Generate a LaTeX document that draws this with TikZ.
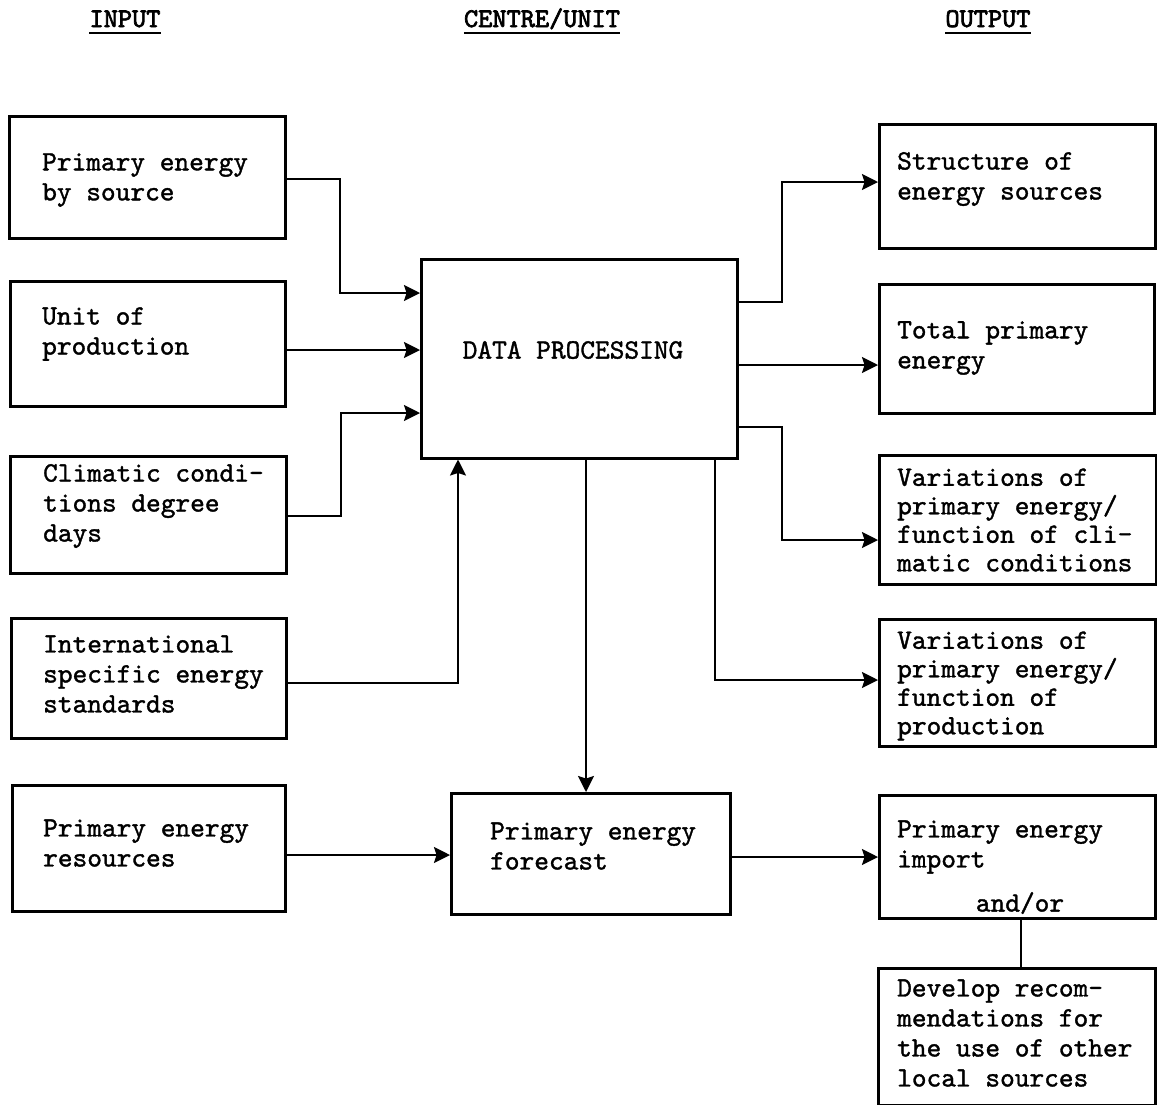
\documentclass[tikz,border=0pt]{standalone}
\usepackage{fontspec}
\newfontfamily\twfont{lmmono10-regular}[Extension=.otf, FakeBold=1.3]
\newfontfamily\twhead{lmmono10-regular}[Extension=.otf, FakeBold=2.6]
\usetikzlibrary{arrows.meta}
\begin{document}
\begin{tikzpicture}[x=1pt,y=-1pt,
  box/.style={draw, line width=2.5pt, inner sep=0pt, anchor=north west},
  txt/.style={font=\twfont\fontsize{28}{30}\selectfont, align=left, anchor=west, inner sep=0pt},
  txtr/.style={font=\twfont\fontsize{28}{28.5}\selectfont, align=left, anchor=west, inner sep=0pt},
  hdr/.style={font=\twhead\fontsize{27}{30}\selectfont, inner sep=0pt, anchor=base},
  ul/.style={line width=2.6pt},
  conn/.style={line width=2pt},
  arr/.style={conn, -{Stealth[length=16pt,width=16pt,inset=2.5pt]}}]
\useasboundingbox (0,0) rectangle (1157,1104);

% headers
\node[hdr] (hin) at (125,27) {INPUT};
\node[hdr] (hcu) at (542,27) {CENTRE/UNIT};
\node[hdr] (hout) at (988,27) {OUTPUT};
\foreach \h in {hin,hcu,hout}
  \draw[ul] ([yshift=-6pt]\h.base west) -- ([yshift=-6pt]\h.base east);

% input boxes
\node[box, minimum width=276pt, minimum height=122pt] (b1) at (8,115) {};
\node[box, minimum width=275pt, minimum height=125pt] (b2) at (9,280) {};
\node[box, minimum width=276pt, minimum height=117pt] (b3) at (9,455) {};
\node[box, minimum width=275pt, minimum height=120pt] (b4) at (10,617) {};
\node[box, minimum width=273pt, minimum height=126pt] (b5) at (11,784) {};

\node[txt] (t1) at (42,180) {Primary energy\\by source};
\node[txt] (t2) at (42,334) {Unit of\\production};
\node[txt] (t3) at (43,506) {Climatic condi-\\tions degree\\days};
\node[txt] (t4) at (43,674) {International\\specific energy\\standards};
\node[txt] (t5) at (43,843) {Primary energy\\resources};

% centre boxes
\node[box, minimum width=316pt, minimum height=199pt] (dp) at (420,258) {};
\node[txt, anchor=center] (tdp) at (573,350) {DATA PROCESSING};
\node[box, minimum width=279pt, minimum height=121pt] (fc) at (450,792) {};
\node[txt] (tfc) at (490,846) {Primary energy\\forecast};

% output boxes
\node[box, minimum width=276pt, minimum height=124pt] (o1) at (878,123) {};
\node[box, minimum width=275pt, minimum height=129pt] (o2) at (878,283) {};
\node[box, minimum width=277pt, minimum height=129pt] (o3) at (878,454) {};
\node[box, minimum width=276pt, minimum height=127pt] (o4) at (878,618) {};
\node[box, minimum width=276pt, minimum height=123pt] (o5) at (878,794) {};
\node[box, minimum width=277pt, minimum height=137pt] (o6) at (877,967) {};

\node[txt] (to1) at (897,179) {Structure of\\energy sources};
\node[txt] (to2) at (897,348) {Total primary\\energy};
\node[txtr] (to3) at (897,520) {Variations of\\primary energy/\\function of cli-\\matic conditions};
\node[txtr] (to4) at (897,686) {Variations of\\primary energy/\\function of\\production};
\node[txt] (to5) at (897,847) {Primary energy\\import};
\node[txt, anchor=center] (tandor) at (1020,903) {and/or};
\node[txt] (to6) at (897,1033) {Develop recom-\\mendations for\\the use of other\\local sources};

% connectors into data processing
\draw[arr] (b1.east |- 0,179) -- (340,179) |- (dp.west |- 0,293);
\draw[arr] (b2.east |- 0,350) -- (dp.west |- 0,350);
\draw[arr] (b3.east |- 0,516) -- (341,516) |- (dp.west |- 0,413);
\draw[arr] (b4.east |- 0,683) -| (dp.south -| 458,0);

% data processing to forecast
\draw[arr] (dp.south -| 586,0) -- (fc.north -| 586,0);
\draw[arr] (b5.east |- 0,855) -- (fc.west |- 0,855);
\draw[arr] (fc.east |- 0,857) -- (o5.west |- 0,857);

% data processing outputs
\draw[arr] (dp.east |- 0,302) -- (782,302) |- (o1.west |- 0,182);
\draw[arr] (dp.east |- 0,365) -- (o2.west |- 0,365);
\draw[arr] (dp.east |- 0,427) -- (782,427) |- (o3.west |- 0,540);
\draw[arr] (dp.south -| 715,0) |- (o4.west |- 0,680);

% and/or link
\draw[conn, line width=1.5pt] (o5.south -| 1021,0) -- (o6.north -| 1021,0);
\end{tikzpicture}
\end{document}
